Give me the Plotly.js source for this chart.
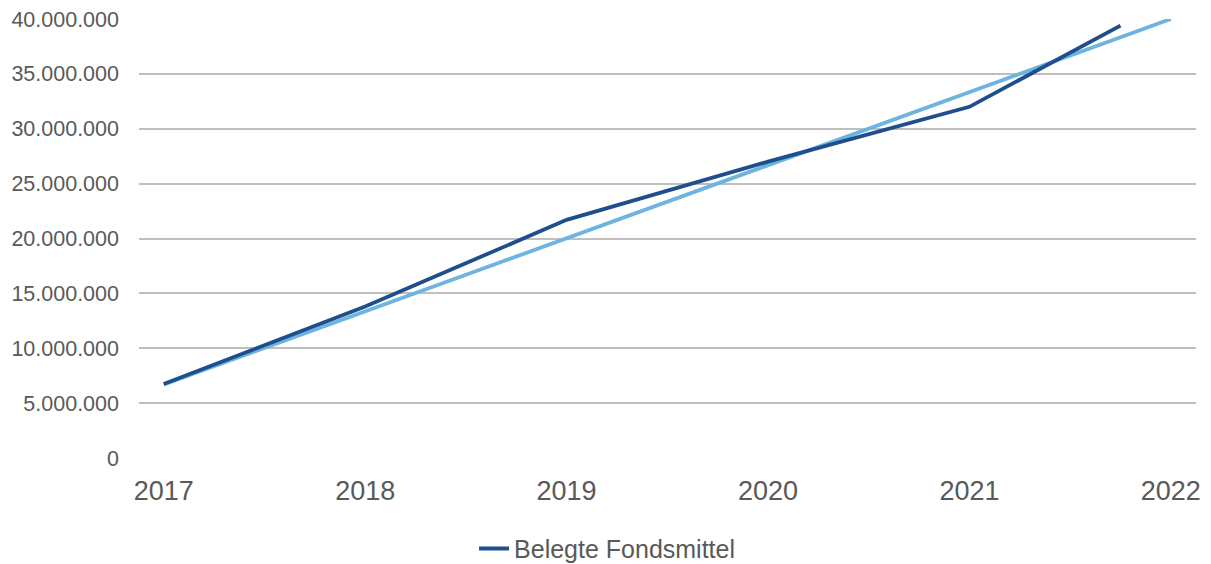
<!DOCTYPE html>
<html>
<head>
<meta charset="utf-8">
<script src="https://cdn.plot.ly/plotly-3.0.1.min.js"></script>
<style>
  html, body { margin: 0; padding: 0; background: #ffffff; }
  #chart { width: 1211px; height: 564px; }
</style>
</head>
<body>
<div id="chart"></div>
<script>
// Committed fund resources per year (last point is the current partial year)
const years = [2017, 2018, 2019, 2020, 2021, 2021.75];
const fundValues = [6740000, 13800000, 21700000, 27000000, 32000000, 39400000];

// Linear trend, start and end values
const trendYears = [2017, 2022];
const trendValues = [6700000, 40000000];

// Axis ticks
const xTickVals = [2017, 2018, 2019, 2020, 2021, 2022];
const xTickText = ['2017', '2018', '2019', '2020', '2021', '2022'];
const yTickVals = [0, 5000000, 10000000, 15000000, 20000000, 25000000, 30000000, 35000000, 40000000];

const seriesName = 'Belegte Fondsmittel';

const textColor = '#595959';
const fontFamily = '"Liberation Sans", Arial, sans-serif';

const traces = [
  {
    x: trendYears,
    y: trendValues,
    type: 'scatter',
    mode: 'lines',
    line: { color: '#6db5e0', width: 3.8 },
    showlegend: false,
    hoverinfo: 'skip'
  },
  {
    x: years,
    y: fundValues,
    type: 'scatter',
    mode: 'lines',
    name: seriesName,
    line: { color: '#1f4e8c', width: 3.8 }
  }
];

const layout = {
  width: 1211,
  height: 564,
  margin: { l: 139, r: 15, t: 19, b: 106 },
  paper_bgcolor: '#ffffff',
  plot_bgcolor: '#ffffff',
  separators: ',.',
  font: { family: fontFamily, color: textColor },
  xaxis: {
    range: [2016.877, 2022.125],
    tickmode: 'array',
    tickvals: xTickVals,
    ticktext: xTickText,
    showgrid: false,
    zeroline: false,
    showline: false,
    ticks: '',
    automargin: false,
    ticklabelstandoff: 14,
    tickfont: { size: 27, color: textColor, family: fontFamily }
  },
  yaxis: {
    range: [0, 40000000],
    tickmode: 'array',
    tickvals: yTickVals,
    tickformat: ',d',
    showgrid: true,
    gridcolor: '#bfbfbf',
    gridwidth: 2,
    zeroline: false,
    showline: false,
    ticks: '',
    automargin: false,
    ticklabelstandoff: 19,
    tickfont: { size: 21.5, color: textColor, family: fontFamily }
  },
  showlegend: true,
  legend: {
    orientation: 'h',
    xref: 'paper',
    x: 0.317,
    xanchor: 'left',
    yref: 'container',
    y: 0.027,
    yanchor: 'middle',
    font: { size: 25, color: textColor, family: fontFamily },
    bgcolor: 'rgba(0,0,0,0)'
  }
};

Plotly.newPlot('chart', traces, layout, { staticPlot: true, displayModeBar: false });
</script>
</body>
</html>
